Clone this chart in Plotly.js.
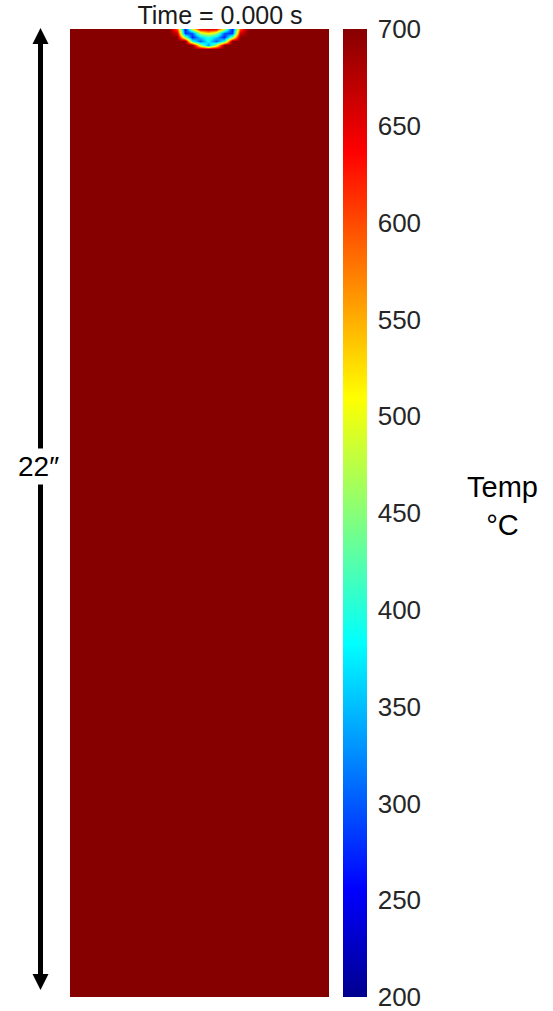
<!DOCTYPE html>
<html>
<head>
<meta charset="utf-8">
<script src="https://cdn.plot.ly/plotly-3.0.1.min.js"></script>
<style>
  html, body { margin: 0; padding: 0; background: #ffffff; }
  #chart { width: 553px; height: 1011px; }
</style>
</head>
<body>
<div id="chart"></div>
<script>
// ---- data (temperatures in °C, positions in inches) ----
const titleText = 'Time = 0.000 s';
const heightLabel = '22″';
const colorbarLabel = 'Temp<br>°C';
const ambientTemp = 700;
const plateWidth = 5.9;
const plateHeight = 22;
// grid columns (inches across) and rows (inches from the bottom)
const xInches = [0, 2.25, 2.43, 2.61, 2.79, 2.97, 3.15, 3.33, 3.51, 3.69, 3.87, 4.05, 5.9];
const yInches = [0, 21.55, 21.64, 21.73, 21.82, 21.91, 22];
// cooled spot near the top edge (values for columns 2.25 .. 4.05)
const row2155 = [700, 700, 700, 700, 700, 700, 700, 700, 700, 700, 700];
const row2164 = [700, 700, 700, 700, 480, 330, 480, 700, 700, 700, 700];
const row2173 = [700, 700, 700, 400, 300, 390, 300, 400, 700, 700, 700];
const row2182 = [700, 700, 450, 270, 360, 400, 360, 270, 450, 700, 700];
const row2191 = [700, 660, 280, 300, 470, 520, 470, 300, 280, 660, 700];
const row2200 = [700, 600, 260, 480, 640, 660, 640, 480, 260, 600, 700];
const colorTicks = [200, 250, 300, 350, 400, 450, 500, 550, 600, 650, 700];

// build the full field: ambient everywhere except the spot rows
const spotRows = [row2155, row2164, row2173, row2182, row2191, row2200];
const zField = [xInches.map(() => ambientTemp)];
spotRows.forEach(r => zField.push([ambientTemp].concat(r, [ambientTemp])));

const jet = [
  [0, 'rgb(0,0,143)'],
  [0.111, 'rgb(0,0,255)'],
  [0.365, 'rgb(0,255,255)'],
  [0.619, 'rgb(255,255,0)'],
  [0.873, 'rgb(255,0,0)'],
  [1, 'rgb(134,0,0)']
];

const fontFam = 'Liberation Sans, Arial, sans-serif';

const trace = {
  type: 'heatmap',
  x: xInches,
  y: yInches,
  z: zField,
  zmin: 200,
  zmax: 700,
  zsmooth: 'best',
  colorscale: jet,
  hoverinfo: 'skip',
  colorbar: {
    x: 1.0541, xanchor: 'left', xpad: 0,
    y: 0.5, yanchor: 'middle', ypad: 0,
    len: 1, lenmode: 'fraction',
    thickness: 24, thicknessmode: 'pixels',
    outlinewidth: 0,
    tickmode: 'array',
    tickvals: colorTicks,
    ticktext: colorTicks.map(String),
    ticklabeloverflow: 'allow',
    ticks: 'outside', ticklen: 6, tickcolor: 'rgba(0,0,0,0)',
    tickfont: { family: fontFam, size: 26, color: '#262626' }
  }
};

// pixel -> paper helpers for decorations
const L = 70, T = 29, W = 259, H = 968;
const px = v => (v - L) / W;
const py = v => (T + H - v) / H;

const layout = {
  width: 553, height: 1011,
  margin: { l: L, r: 553 - L - W, t: T, b: 1011 - T - H, pad: 0 },
  paper_bgcolor: '#ffffff',
  plot_bgcolor: '#ffffff',
  showlegend: false,
  title: {
    text: titleText,
    font: { family: fontFam, size: 25, color: '#1a1a1a' },
    xref: 'paper', x: px(220), xanchor: 'center',
    yref: 'container', y: 1 - 15 / 1011, yanchor: 'middle'
  },
  xaxis: { range: [0, plateWidth], visible: false, fixedrange: true },
  yaxis: { range: [0, plateHeight], visible: false, fixedrange: true },
  shapes: [
    { type: 'line', xref: 'paper', yref: 'paper',
      x0: px(40.5), x1: px(40.5), y0: py(980), y1: py(38),
      line: { color: '#000', width: 5 } },
    { type: 'path', xref: 'paper', yref: 'paper',
      path: `M ${px(40.5)} ${py(28)} L ${px(32.5)} ${py(44)} L ${px(48.5)} ${py(44)} Z`,
      fillcolor: '#000', line: { width: 0 } },
    { type: 'path', xref: 'paper', yref: 'paper',
      path: `M ${px(40.5)} ${py(990)} L ${px(32.5)} ${py(974)} L ${px(48.5)} ${py(974)} Z`,
      fillcolor: '#000', line: { width: 0 } }
  ],
  annotations: [
    { text: heightLabel, xref: 'paper', yref: 'paper',
      x: px(38), y: py(466), xanchor: 'center', yanchor: 'middle',
      showarrow: false, bgcolor: '#ffffff', borderpad: 2,
      font: { family: fontFam, size: 28, color: '#000' } },
    { text: colorbarLabel, xref: 'paper', yref: 'paper',
      x: px(502), y: py(506), xanchor: 'center', yanchor: 'middle',
      showarrow: false, align: 'center',
      font: { family: fontFam, size: 29, color: '#000' } }
  ]
};

Plotly.newPlot('chart', [trace], layout, { displayModeBar: false, staticPlot: true });
</script>
</body>
</html>
